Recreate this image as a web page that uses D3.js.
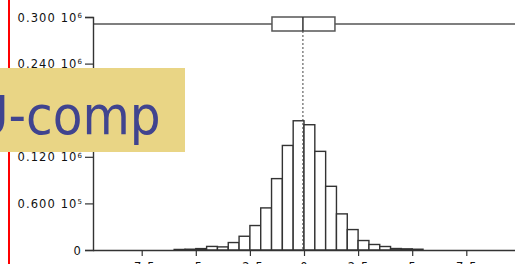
<!DOCTYPE html>
<html>
<head>
<meta charset="utf-8">
<script src="https://cdn.jsdelivr.net/npm/d3@7"></script>
<style>
  html, body { margin: 0; padding: 0; background: #fff; overflow: hidden; }
  svg { display: block; }
</style>
</head>
<body>
<svg id="chart" width="515" height="264"></svg>
<script>
// ---- data ----
const binStarts = [-6.0, -5.5, -5.0, -4.5, -4.0, -3.5, -3.0, -2.5, -2.0, -1.5, -1.0, -0.5,
                   0.0, 0.5, 1.0, 1.5, 2.0, 2.5, 3.0, 3.5, 4.0, 4.5, 5.0];
const binCounts = [700, 1000, 1800, 4600, 4000, 9600, 17700, 31500, 54200, 91900, 134600, 166400,
                   161300, 127000, 82000, 46500, 26300, 12200, 7100, 4500, 1900, 1500, 1000];
const binWidth = 0.5;
const boxStats = [-9.75, -1.48, -0.05, 1.43, 10.5]; // min, q1, median, q3, max
const yTickValues = [0, 60000, 120000, 180000, 240000, 300000];
const yTickMantissa = ["0", "0.600", "0.120", "0.180", "0.240", "0.300"];
const yTickExponent = ["", "5", "6", "6", "6", "6"];
const xTickValues = [-7.5, -5, -2.5, 0, 2.5, 5, 7.5];
const xTickLabels = ["-7.5", "-5", "-2.5", "0", "2.5", "5", "7.5"];
const overlayTitle = "U-comp";

// ---- layout ----
const svg = d3.select("#chart");
const axisX = 93, baseY = 250, topY = 17;
const x = d3.scaleLinear().domain([-10, 10]).range([87.6, 520.4]);
const y = d3.scaleLinear().domain([0, 300000]).range([baseY, topY]);
const ink = "#333";
const font = "'DejaVu Sans', sans-serif";

// red margin line
svg.append("rect").attr("x", 8).attr("y", 0).attr("width", 2).attr("height", 264).attr("fill", "#f00");

const plot = svg.append("g");
svg.append("clipPath").attr("id", "pc").append("rect")
  .attr("x", axisX).attr("y", 0).attr("width", 515 - axisX).attr("height", 264);

// bars
plot.append("g").attr("clip-path", "url(#pc)")
  .selectAll("rect").data(binStarts).join("rect")
  .attr("x", d => x(d))
  .attr("width", d => x(d + binWidth) - x(d))
  .attr("y", (d, i) => y(binCounts[i]))
  .attr("height", (d, i) => y(0) - y(binCounts[i]))
  .attr("fill", "#fff").attr("stroke", ink).attr("stroke-width", 1.4);

// box plot
const bY = 24, bH = 14;
const bp = plot.append("g").attr("clip-path", "url(#pc)");
bp.append("line").attr("x1", x(boxStats[0])).attr("x2", x(boxStats[4]))
  .attr("y1", bY).attr("y2", bY).attr("stroke", "#555").attr("stroke-width", 1.5);
bp.append("rect").attr("x", x(boxStats[1])).attr("width", x(boxStats[3]) - x(boxStats[1]))
  .attr("y", bY - bH / 2).attr("height", bH)
  .attr("fill", "#fff").attr("stroke", "#555").attr("stroke-width", 1.5);
bp.append("line").attr("x1", x(boxStats[2])).attr("x2", x(boxStats[2]))
  .attr("y1", bY - bH / 2).attr("y2", bY + bH / 2).attr("stroke", ink).attr("stroke-width", 1.5);
bp.append("line").attr("x1", x(boxStats[2])).attr("x2", x(boxStats[2]))
  .attr("y1", bY + bH / 2).attr("y2", baseY)
  .attr("stroke", "#444").attr("stroke-width", 1).attr("stroke-dasharray", "2,2");

// y axis
const yAxis = svg.append("g").attr("transform", `translate(${axisX},0)`)
  .call(d3.axisLeft(y).tickValues(yTickValues).tickSize(8).tickPadding(3).tickFormat(() => ""));
yAxis.select(".domain").attr("stroke", ink).attr("stroke-width", 1.4);
yAxis.selectAll(".tick line").attr("stroke", ink).attr("stroke-width", 1.2);
yAxis.selectAll(".tick text").each(function (d, i) {
  const t = d3.select(this).attr("font-family", font).attr("font-size", 11.5)
    .attr("fill", "#111").attr("letter-spacing", 1.1).attr("dy", "0.36em");
  t.append("tspan").text(yTickMantissa[i] + (yTickExponent[i] ? " 10" : ""));
  if (yTickExponent[i]) {
    t.append("tspan").attr("font-size", 7).attr("dy", "-0.55em").attr("letter-spacing", 0).text(yTickExponent[i]);
  }
});

// x axis
const xAxis = svg.append("g").attr("transform", `translate(0,${baseY})`)
  .call(d3.axisBottom(x).tickValues(xTickValues).tickSize(6).tickPadding(6.5)
    .tickFormat((d, i) => xTickLabels[i]));
xAxis.select(".domain").attr("d", `M${axisX},0.5H515`).attr("stroke", ink).attr("stroke-width", 1.4);
xAxis.selectAll(".tick line").attr("stroke", ink).attr("stroke-width", 1.2);
xAxis.selectAll(".tick text").attr("font-family", font).attr("font-size", 11.5)
  .attr("fill", "#111").attr("letter-spacing", 1.1);

// overlay title box
svg.append("rect").attr("x", 0).attr("y", 68).attr("width", 185).attr("height", 84)
  .attr("fill", "#E9D585");
svg.append("text").attr("x", -27).attr("y", 134)
  .attr("font-family", "'DejaVu Sans Condensed', 'DejaVu Sans', sans-serif")
  .attr("font-stretch", "condensed")
  .attr("font-size", 54).attr("fill", "#40448F").text(overlayTitle);
</script>
</body>
</html>
